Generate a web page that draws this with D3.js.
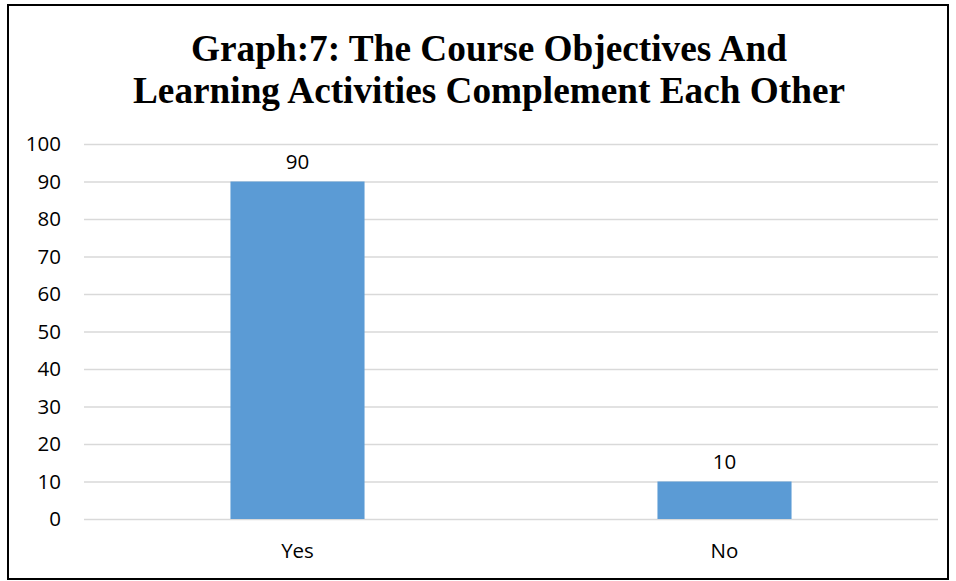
<!DOCTYPE html>
<html>
<head>
    <meta charset="utf-8">
    <script src="https://d3js.org/d3.v7.js"></script>
    <style type="text/css">
        body {
            margin: 0;
            background: #fff;
        }
        .title {
            font: bold 37px "Liberation Serif", "Times New Roman", serif;
            fill: #000;
        }
        .tick text {
            font: 20.5px "Open Sans", sans-serif;
            fill: #000;
        }
        .vlabel, .clabel {
            font: 20.5px "Open Sans", sans-serif;
            fill: #000;
        }
    </style>
</head>
<body>
    <svg width="956" height="581"></svg>
    <script>
        // chart data
        var categories = ["Yes", "No"];
        var values = [90, 10];
        var yTicks = [0, 10, 20, 30, 40, 50, 60, 70, 80, 90, 100];
        var titleLines = ["Graph:7: The Course Objectives And", "Learning Activities Complement Each Other"];

        var svg = d3.select("svg");

        // outer frame
        svg.append("rect")
            .attr("x", 8).attr("y", 5)
            .attr("width", 940).attr("height", 574)
            .attr("fill", "none")
            .attr("stroke", "#000")
            .attr("stroke-width", 2);

        // title, squeezed like the original
        var titleWidths = [596, 712];
        svg.selectAll(".title")
            .data(titleLines)
            .enter().append("text")
            .attr("class", "title")
            .attr("x", 489)
            .attr("y", (d, i) => 61 + i * 42)
            .attr("text-anchor", "middle")
            .attr("textLength", (d, i) => titleWidths[i])
            .attr("lengthAdjust", "spacingAndGlyphs")
            .text(d => d);

        var margin = {left: 84, right: 18, top: 144, bottom: 62};
        var width = 956 - margin.left - margin.right,
            height = 581 - margin.top - margin.bottom;

        var g = svg.append("g").attr("transform", `translate(${margin.left}, ${margin.top})`);

        var x = d3.scaleBand().domain(categories).range([0, width]).paddingInner(0.686).paddingOuter(0.343);
        var y = d3.scaleLinear().domain([0, 100]).range([height, 0]);

        // gridlines + y labels
        var yAxis = g.append("g")
            .call(d3.axisLeft(y).tickValues(yTicks).tickSize(-width).tickPadding(23));
        yAxis.select(".domain").remove();
        yAxis.selectAll(".tick line")
            .attr("stroke", "#d9d9d9")
            .attr("stroke-width", 1.5);

        // bars
        g.selectAll(".bar")
            .data(values)
            .enter().append("rect")
            .attr("class", "bar")
            .attr("x", (d, i) => x(categories[i]))
            .attr("y", d => y(d))
            .attr("width", x.bandwidth())
            .attr("height", d => height - y(d))
            .attr("fill", "#5b9bd5");

        // value labels
        g.selectAll(".vlabel")
            .data(values)
            .enter().append("text")
            .attr("class", "vlabel")
            .attr("x", (d, i) => x(categories[i]) + x.bandwidth() / 2)
            .attr("y", d => y(d) - 13)
            .attr("text-anchor", "middle")
            .text(d => d);

        // category labels
        g.selectAll(".clabel")
            .data(categories)
            .enter().append("text")
            .attr("class", "clabel")
            .attr("x", d => x(d) + x.bandwidth() / 2)
            .attr("y", height + 39)
            .attr("text-anchor", "middle")
            .text(d => d);
    </script>
</body>
</html>
